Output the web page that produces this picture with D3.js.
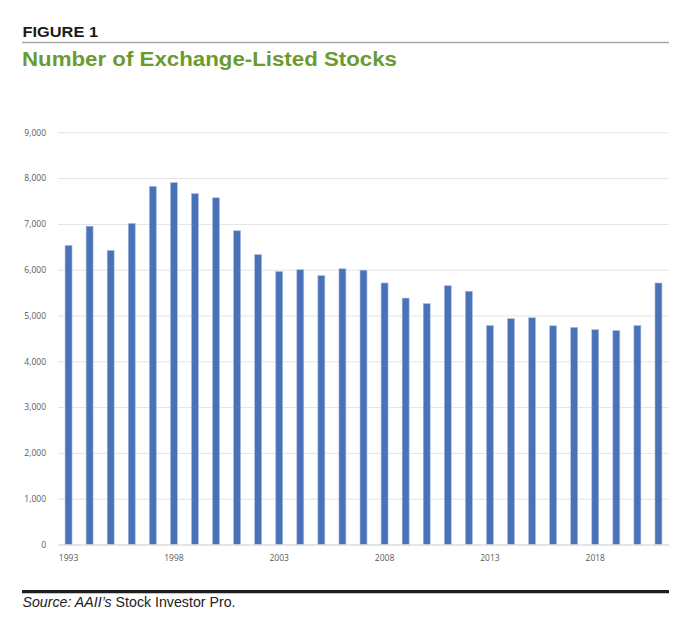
<!DOCTYPE html>
<html>
<head>
<meta charset="utf-8">
<script src="https://cdn.jsdelivr.net/npm/d3@7"></script>
<style>
  body { margin: 0; background: #fff; }
  svg { display: block; }
</style>
</head>
<body>
<div id="chart"></div>
<script>
// number of listed stocks per year
const years = [1993, 1994, 1995, 1996, 1997, 1998, 1999, 2000, 2001, 2002,
  2003, 2004, 2005, 2006, 2007, 2008, 2009, 2010, 2011, 2012,
  2013, 2014, 2015, 2016, 2017, 2018, 2019, 2020, 2021];
const stocks = [6530, 6950, 6420, 7010, 7820, 7900, 7660, 7570, 6850, 6330,
  5960, 6000, 5870, 6020, 5990, 5710, 5380, 5260, 5650, 5530,
  4780, 4930, 4950, 4775, 4740, 4690, 4670, 4780, 5710];
const yTicks = [0, 1000, 2000, 3000, 4000, 5000, 6000, 7000, 8000, 9000];
const xTickYears = [1993, 1998, 2003, 2008, 2013, 2018];

const W = 700, H = 625;
const plotL = 58, plotR = 669, plotT = 132.3, plotB = 544.5;

const svg = d3.select("#chart")
  .append("svg")
  .attr("width", W)
  .attr("height", H);

// header
svg.append("text")
  .attr("x", 22.5)
  .attr("y", 37.3)
  .attr("font-family", "Liberation Sans, Arial, sans-serif")
  .attr("font-weight", "bold")
  .attr("font-size", 14.5)
  .attr("textLength", 75.5)
  .attr("lengthAdjust", "spacingAndGlyphs")
  .attr("fill", "#1a1a1a")
  .text("FIGURE 1");

svg.append("line")
  .attr("x1", 22).attr("x2", plotR)
  .attr("y1", 42.5).attr("y2", 42.5)
  .attr("stroke", "#a6a6a6")
  .attr("stroke-width", 1.3);

svg.append("text")
  .attr("x", 22)
  .attr("y", 66)
  .attr("font-family", "Liberation Sans, Arial, sans-serif")
  .attr("font-weight", "bold")
  .attr("font-size", 21)
  .attr("textLength", 375)
  .attr("lengthAdjust", "spacingAndGlyphs")
  .attr("fill", "#6b9b30")
  .text("Number of Exchange-Listed Stocks");

// scales
const x = d3.scaleBand()
  .domain(years)
  .range([plotL, plotR])
  .paddingInner(0.67)
  .paddingOuter(0.335);

const y = d3.scaleLinear()
  .domain([0, 9000])
  .range([plotB, plotT]);

// gridlines + y labels
const yAxis = svg.append("g")
  .attr("transform", `translate(${plotL},0)`)
  .call(d3.axisLeft(y)
    .tickValues(yTicks)
    .tickSize(-(plotR - plotL))
    .tickPadding(12)
    .tickFormat(d3.format(",")));

yAxis.select(".domain").remove();
yAxis.selectAll(".tick line")
  .attr("stroke", "#e3e3e3")
  .attr("stroke-width", 1);
yAxis.selectAll(".tick text")
  .attr("font-family", "Open Sans, sans-serif")
  .attr("font-size", 8.5)
  .attr("fill", "#595959");

// bars
svg.append("g")
  .selectAll("rect")
  .data(years)
  .join("rect")
  .attr("x", (d) => x(d))
  .attr("y", (d, i) => y(stocks[i]))
  .attr("width", x.bandwidth())
  .attr("height", (d, i) => plotB - y(stocks[i]))
  .attr("fill", "#4a72b8")
  .attr("stroke", "#a9bde0")
  .attr("stroke-width", 0.6);

// x labels, only every fifth year
const xAxis = svg.append("g")
  .attr("transform", `translate(0,${plotB})`)
  .call(d3.axisBottom(x)
    .tickValues(xTickYears)
    .tickSize(0)
    .tickPadding(10));

xAxis.select(".domain")
  .attr("stroke", "#d9d9d9");
xAxis.selectAll(".tick text")
  .attr("font-family", "Open Sans, sans-serif")
  .attr("font-size", 8.5)
  .attr("fill", "#595959");

// footer
svg.append("line")
  .attr("x1", 22).attr("x2", plotR)
  .attr("y1", 591.7).attr("y2", 591.7)
  .attr("stroke", "#1e1e1e")
  .attr("stroke-width", 3.3);

const src = svg.append("text")
  .attr("x", 22.5)
  .attr("y", 607)
  .attr("font-family", "Liberation Sans Narrow, Liberation Sans, sans-serif")
  .attr("font-size", 14.5)
  .attr("textLength", 213)
  .attr("lengthAdjust", "spacingAndGlyphs")
  .attr("fill", "#222");
src.append("tspan")
  .attr("font-style", "italic")
  .text("Source: AAII’s ");
src.append("tspan")
  .text("Stock Investor Pro.");
</script>
</body>
</html>
